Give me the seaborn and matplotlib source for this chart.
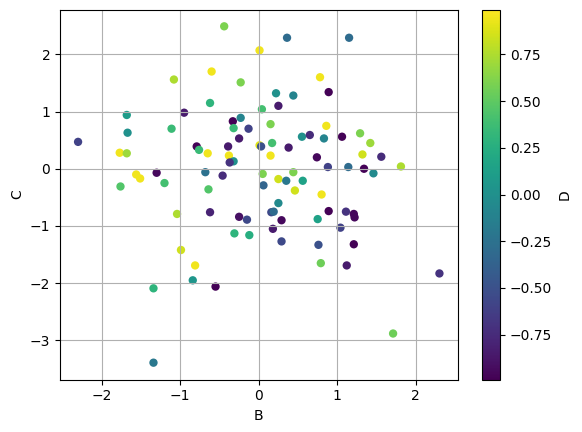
import numpy as np
import matplotlib
matplotlib.use("Agg")
import matplotlib.pyplot as plt
import pandas as pd
import seaborn as sns

B = [-0.44, 0.01, -0.60, -1.08, -0.23, -0.62, -0.95, -1.68, 0.04, -0.33,
     -0.23, -0.32, -0.13, -1.67, -1.11, -2.30, -0.25, -0.79, -0.76, -0.39,
     0.01, 0.03, -1.77, -1.68, -0.65, -0.38, -0.32, -0.37, -1.30, -1.56,
     -1.51, -0.68, -0.46, 0.05, -1.76, -1.20, -0.64, 0.06, 0.36, 1.15,
     0.78, 0.22, 0.44, 0.89, 0.25, 0.15, 0.86, 0.55, 0.65, 0.83,
     1.06, 1.29, 1.42, 0.17, 0.38, 0.15, 0.74, 1.32, 1.56, 0.88,
     1.14, 1.34, 1.46, 1.81, 0.44, 0.25, 0.35, 0.56, 0.46, 0.80,
     0.25, -1.04, -0.62, -0.25, -0.15, -0.31, -0.12, -0.99, -0.81, -0.84,
     -0.55, -1.34, -1.34, 0.16, 0.19, 0.29, 0.75, 0.89, 1.11, 1.21,
     1.22, 0.18, 1.04, 0.29, 0.76, 1.21, 0.79, 1.12, 2.30, 1.71]

C = [2.49, 2.07, 1.70, 1.56, 1.51, 1.15, 0.98, 0.94, 1.04, 0.83,
     0.89, 0.71, 0.70, 0.63, 0.70, 0.47, 0.53, 0.39, 0.33, 0.39,
     0.41, 0.39, 0.28, 0.27, 0.27, 0.23, 0.13, 0.11, -0.07, -0.10,
     -0.17, -0.06, -0.12, -0.09, -0.31, -0.25, -0.36, -0.29, 2.29, 2.29,
     1.60, 1.32, 1.28, 1.34, 1.10, 0.78, 0.75, 0.56, 0.59, 0.53,
     0.56, 0.62, 0.45, 0.45, 0.37, 0.23, 0.20, 0.25, 0.21, 0.03,
     0.03, 0.00, -0.08, 0.04, -0.06, -0.18, -0.21, -0.21, -0.38, -0.45,
     -0.60, -0.79, -0.76, -0.84, -0.89, -1.13, -1.16, -1.42, -1.69, -1.95,
     -2.06, -2.09, -3.39, -0.76, -0.75, -0.90, -0.88, -0.74, -0.75, -0.79,
     -0.85, -1.05, -1.03, -1.27, -1.33, -1.32, -1.65, -1.69, -1.83, -2.88]

D = [0.60, 0.95, 0.95, 0.75, 0.60, 0.30, -0.85, 0.10, 0.40, -0.98,
     -0.10, 0.35, -0.60, 0.00, 0.35, -0.60, -0.85, -0.98, 0.35, -0.85,
     0.90, -0.50, 0.95, 0.70, 0.95, 0.95, 0.00, -0.70, -0.95, 0.95,
     0.95, -0.25, -0.75, 0.60, 0.45, 0.40, 0.45, -0.35, -0.30, -0.30,
     0.95, 0.00, -0.10, -0.98, -0.85, 0.60, 0.95, 0.00, -0.75, -0.10,
     -0.98, 0.60, 0.70, 0.40, -0.85, 0.95, -0.95, 0.85, -0.75, -0.60,
     -0.30, -0.98, -0.05, 0.75, 0.60, 0.85, -0.20, 0.15, 0.85, 0.95,
     -0.05, 0.75, -0.80, -0.90, -0.55, 0.30, 0.25, 0.85, 0.95, 0.05,
     -0.98, 0.30, -0.20, -0.55, -0.30, -0.95, 0.15, -0.98, -0.70, -0.95,
     -0.95, -0.85, -0.60, -0.55, -0.50, -0.98, 0.55, -0.85, -0.70, 0.55]

df = pd.DataFrame({"B": B, "C": C, "D": D})

fig = plt.figure(figsize=(5.82, 4.32), dpi=100)
ax = fig.add_axes([60 / 582, 52.5 / 432, 397.5 / 582, 370 / 432])
cax = fig.add_axes([482.3 / 582, 52.5 / 432, 18 / 582, 370 / 432])

norm = plt.Normalize(-0.99, 0.99)
sns.scatterplot(data=df, x="B", y="C", hue="D", palette="viridis",
                hue_norm=norm, legend=False, s=36, linewidth=0, ax=ax)
ax.grid(True)
ax.set_xlabel("B")
ax.set_ylabel("C")

sm = plt.cm.ScalarMappable(norm=norm, cmap="viridis")
cb = fig.colorbar(sm, cax=cax)
cb.set_label("D")

fig.savefig("out.png", dpi=100)
